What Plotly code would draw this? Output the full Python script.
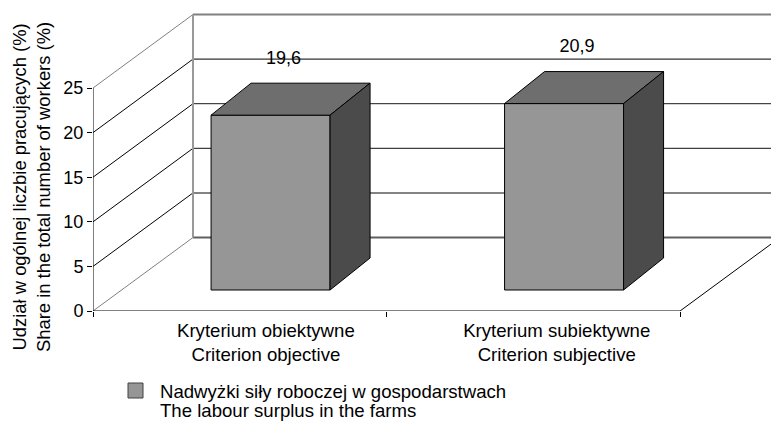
import plotly.graph_objects as go

# Data
categories = ["Kryterium obiektywne<br>Criterion objective", "Kryterium subiektywne<br>Criterion subjective"]
values = [19.6, 20.9]
value_labels = ["19,6", "20,9"]
y_ticks = [0, 5, 10, 15, 20, 25]
series_lines = ["Nadwyżki siły roboczej w gospodarstwach", "The labour surplus in the farms"]
y_title = "Udział w ogólnej liczbie pracujących (%)<br>Share in the total number of workers (%)"

# Layout constants (data units of the 2D axes used for the oblique projection)
PX_X = 293.5
PX_Y = 8.92
W, H = 771, 421
LEFT, TOP, BOTTOM = 93, 10, 311
X0, X1 = -0.5, 1.5
WALL_DX, WALL_DY = 100 / PX_X, 73.5 / PX_Y
BAR_DX, BAR_DY = 40 / PX_X, 32 / PX_Y
BAR_INSET = 21 / PX_Y
BAR_HALF = 59.5 / PX_X
BAR_SHIFT = 0.105
FONT = "Liberation Sans, Arial, sans-serif"
FS = 18

fig = go.Figure()


def line(xs, ys, color="#000000", width=1):
    fig.add_trace(go.Scatter(x=xs, y=ys, mode="lines", line=dict(color=color, width=width),
                             showlegend=False, hoverinfo="skip"))


def face(xs, ys, color):
    fig.add_trace(go.Scatter(x=xs, y=ys, mode="lines", fill="toself", fillcolor=color,
                             line=dict(color="#000000", width=1), showlegend=False, hoverinfo="skip"))


grid_styles = {0: ("#606060", 2), 5: ("#5a5a5a", 1.5), 10: ("#404040", 1.3), 15: ("#1a1a1a", 1),
               20: ("#000000", 1), 25: ("#808080", 2)}

# Back wall and side wall lines
for t in y_ticks:
    c, w = grid_styles[t]
    line([X0 + WALL_DX, X1 + WALL_DX], [t + WALL_DY, t + WALL_DY], c, w)
    diag = "#808080" if t in (0, 25) else "#000000"
    line([X0, X0 + WALL_DX], [t, t + WALL_DY], diag, 1)
line([X0 + WALL_DX, X0 + WALL_DX], [WALL_DY, 25 + WALL_DY], "#999999", 2)

# Floor and axis lines
line([X0, X1], [0, 0], "#000000", 1)
line([X0, X0], [0, 25], "#000000", 1)
line([X1, X1 + WALL_DX], [0, WALL_DY], "#000000", 1)

# Bars
for i, v in enumerate(values):
    l = i + BAR_SHIFT - BAR_HALF
    r = i + BAR_SHIFT + BAR_HALF
    b = BAR_INSET
    t = BAR_INSET + v
    face([l, r, r, l, l], [b, b, t, t, b], "#969696")
    face([l, l + BAR_DX, r + BAR_DX, r, l], [t, t + BAR_DY, t + BAR_DY, t, t], "#6e6e6e")
    face([r, r + BAR_DX, r + BAR_DX, r, r], [b, b + BAR_DY, t + BAR_DY, t, b], "#4b4b4b")

# Value labels
fig.add_trace(go.Scatter(
    x=[i + BAR_SHIFT + 13 / PX_X for i in range(len(values))],
    y=[BAR_INSET + v + BAR_DY + 24 / PX_Y for v in values],
    mode="text", text=value_labels, textposition="middle center",
    textfont=dict(family=FONT, size=FS, color="#000000"), showlegend=False, hoverinfo="skip"))

fig.update_layout(
    width=W, height=H, margin=dict(l=0, r=0, t=0, b=0, pad=0), autosize=False,
    paper_bgcolor="#ffffff", plot_bgcolor="#ffffff", showlegend=False,
    font=dict(family=FONT, size=FS, color="#000000"),
    xaxis=dict(domain=[LEFT / W, 1], range=[X0, X0 + (W - LEFT) / PX_X], automargin=False,
               showgrid=False, zeroline=False, showline=False,
               tickmode="array", tickvals=[0.089, 1.08], ticktext=categories, ticks="", tickangle=0,
               ticklabelstandoff=6, tickfont=dict(family=FONT, size=18.6),
               minor=dict(tickmode="array", tickvals=[-0.5, 0.5, 1.5], ticks="outside", ticklen=5,
                          tickcolor="#000000", tickwidth=1, showgrid=False)),
    yaxis=dict(domain=[1 - BOTTOM / H, 1 - TOP / H], range=[0, (BOTTOM - TOP) / PX_Y], automargin=False,
               showgrid=False, zeroline=False, showline=False,
               tickmode="array", tickvals=y_ticks, ticks="outside", ticklen=5, tickcolor="#000000", tickwidth=1),
    shapes=[dict(type="rect", xref="paper", yref="paper", x0=128 / W, x1=143 / W,
                 y0=1 - 398 / H, y1=1 - 383 / H, fillcolor="#969696", line=dict(color="#404040", width=1))],
    annotations=[
        dict(text=y_title, x=32 / W, y=1 - 187 / H, xref="paper", yref="paper", showarrow=False,
             xanchor="center", yanchor="middle", textangle=-90, font=dict(family=FONT, size=18.4), align="center"),
        dict(text=series_lines[0], x=158 / W, y=1 - 391 / H, xref="paper", yref="paper", showarrow=False,
             xanchor="left", yanchor="middle", font=dict(family=FONT, size=18.6), align="left"),
        dict(text=series_lines[1], x=158 / W, y=1 - 410 / H, xref="paper", yref="paper", showarrow=False,
             xanchor="left", yanchor="middle", font=dict(family=FONT, size=18.6), align="left"),
    ],
)

fig.write_html("out.html", config={"displayModeBar": False}, post_script="document.body.style.margin='0';")
